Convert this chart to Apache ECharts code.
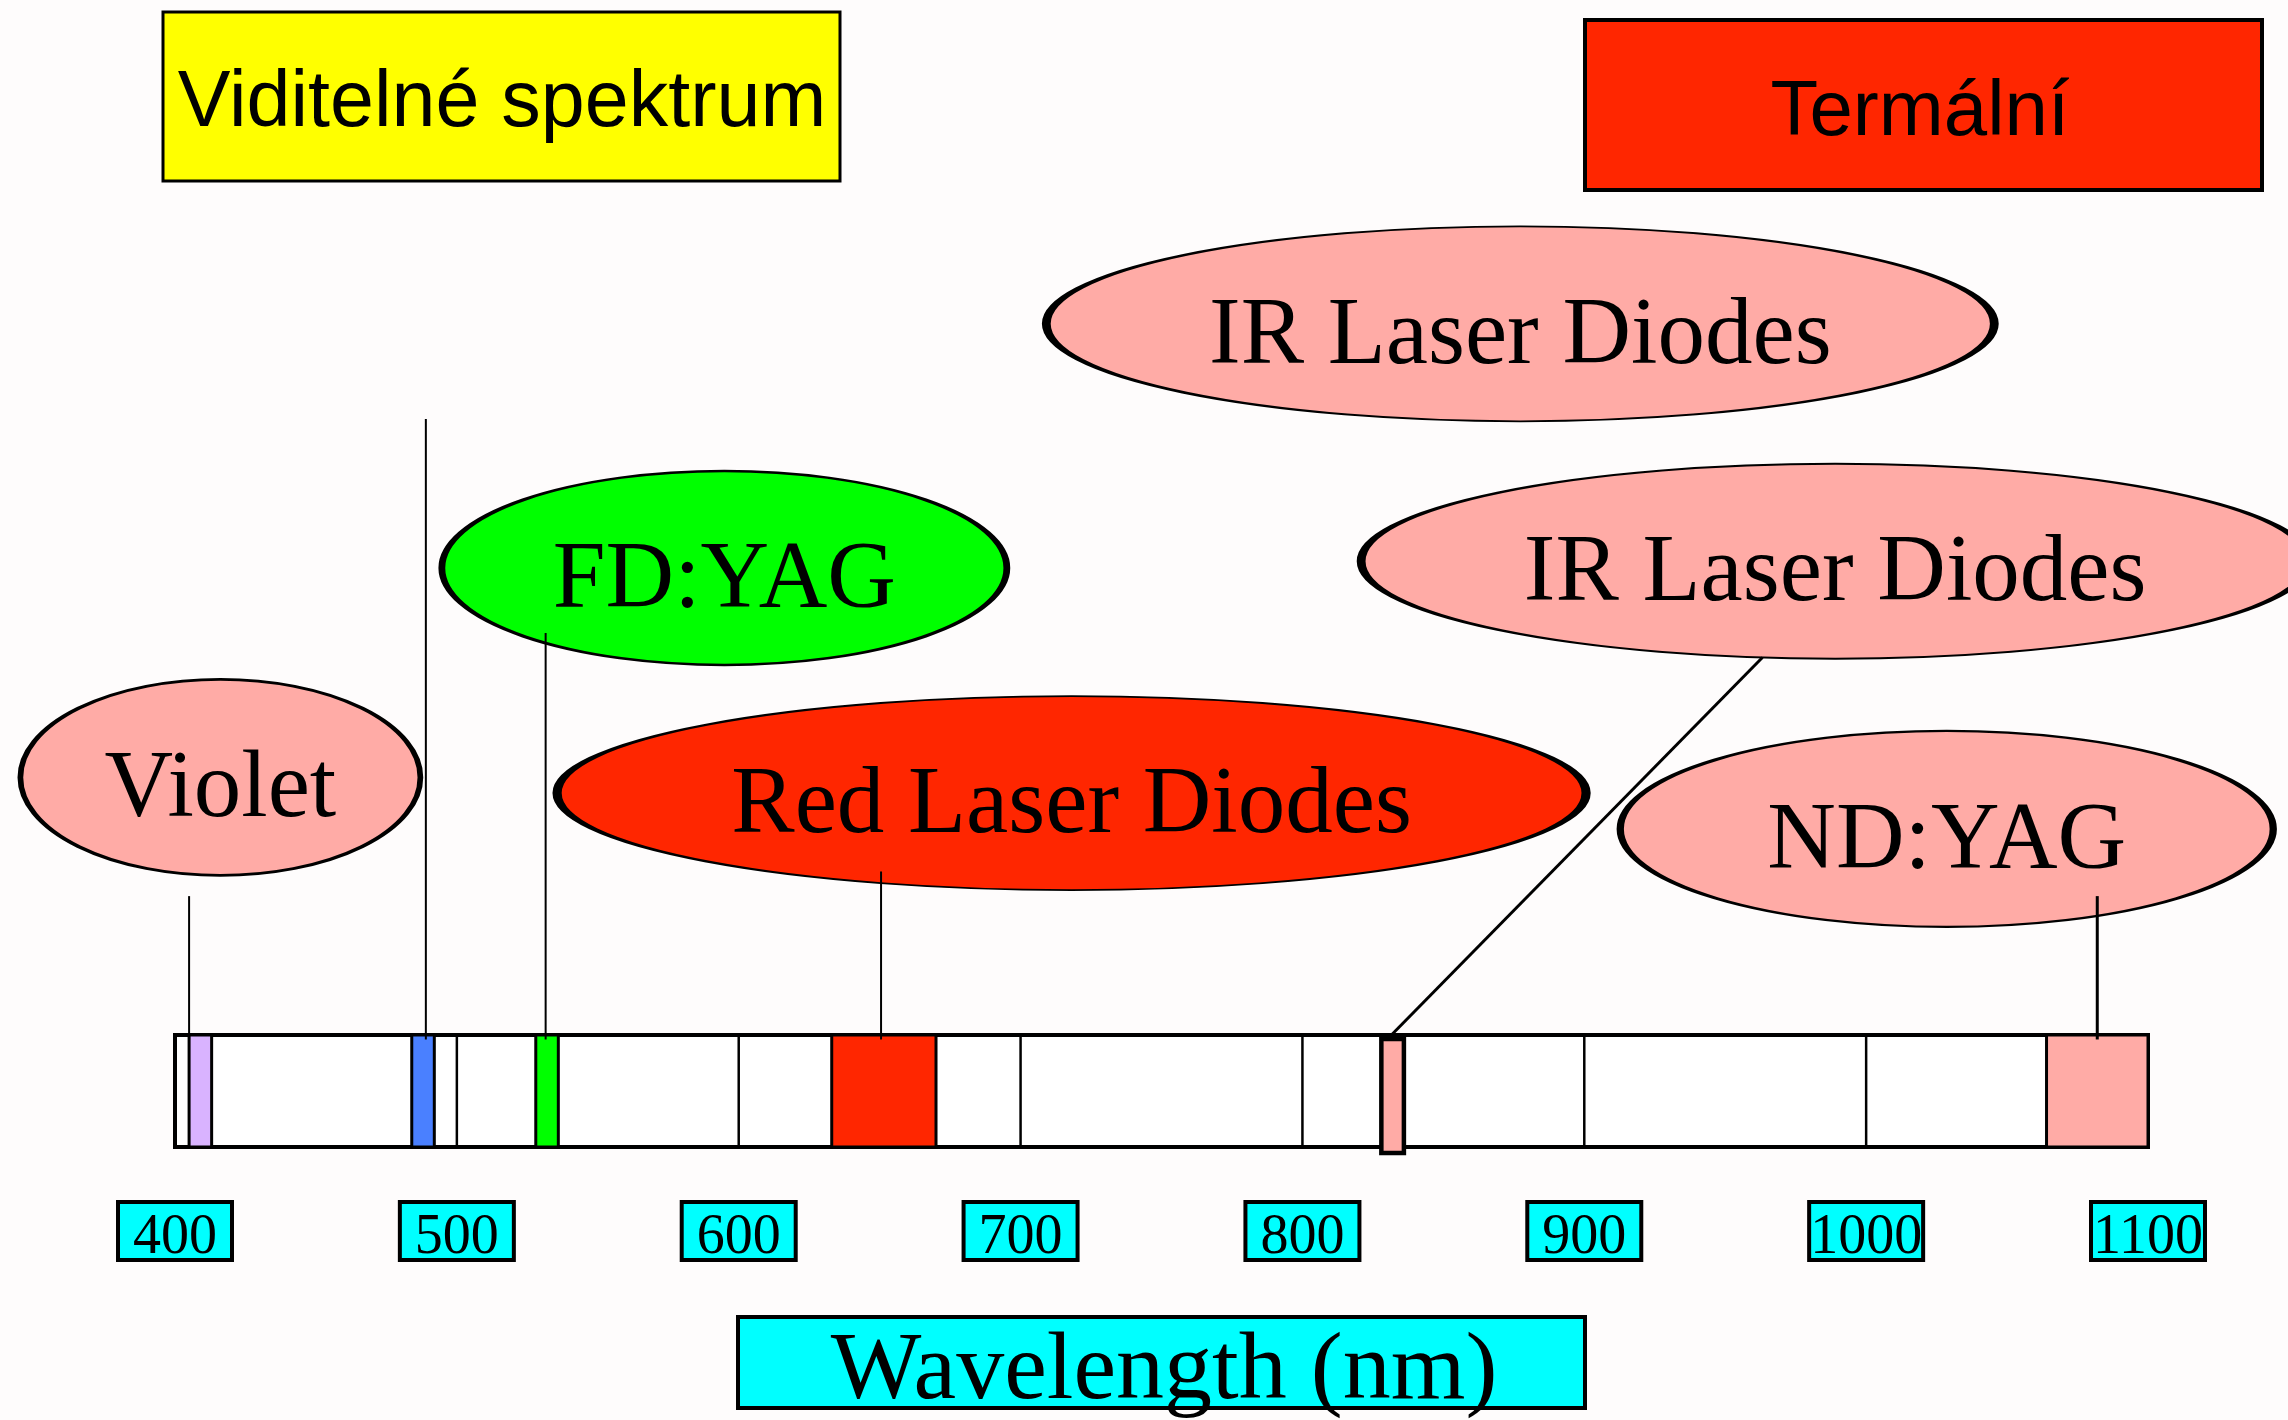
<!DOCTYPE html>
<html>
<head>
<meta charset="utf-8">
<script src="https://cdn.jsdelivr.net/npm/echarts@6/dist/echarts.min.js"></script>
<style>
  html, body { margin: 0; padding: 0; background: #fefcfc; }
  #chart { width: 2288px; height: 1420px; }
</style>
</head>
<body>
<div id="chart"></div>
<script>
// ---------- data ----------
const tickValues = [400, 500, 600, 700, 800, 900, 1000, 1100];
const axisName = 'Wavelength (nm)';
const headerVisible = 'Viditelné spektrum';
const headerThermal = 'Termální';

// laser bands on the wavelength scale (nm)
const bandNames   = ['Violet', 'Blue', 'FD:YAG', 'Red Laser Diodes', 'IR Laser Diodes', 'ND:YAG'];
const bandStart   = [405, 484, 528, 633, 828, 1064];
const bandEnd     = [413, 492, 536, 670, 836, 1100];
const bandPointer = [405, 489, 531.5, 650.5, 830, 1082];

// callout texts
const calloutNames = ['Violet', 'FD:YAG', 'Red Laser Diodes', 'IR Laser Diodes', 'IR Laser Diodes', 'ND:YAG'];

// ---------- layout / style (not data) ----------
const bandColors = ['#d9b3ff', '#4a80ff', '#00ff00', '#ff2600', '#ffaba6', '#ffaba6'];
// callout ellipse placement: anchor nm, level (bar height units), size px, colour
const calloutLayout = [
  { nm: 416.1, level: 3.30, w: 400, h: 196, color: '#ffaba6' },
  { nm: 594.9, level: 5.17, w: 565, h: 194, color: '#00ff00' },
  { nm: 718.1, level: 3.16, w: 1029, h: 194, color: '#ff2600' },
  { nm: 877.3, level: 7.35, w: 948, h: 195, color: '#ffaba6' },
  { nm: 989.0, level: 5.23, w: 948, h: 195, color: '#ffaba6' },
  { nm: 1028.6, level: 2.84, w: 653, h: 196, color: '#ffaba6' }
];
// leader lines: top end of each band's pointer line
const leaderTop = [
  { nm: 405, level: 2.24 },
  { nm: 489, level: 6.50 },
  { nm: 531.5, level: 4.59 },
  { nm: 650.5, level: 2.46 },
  { nm: 963.2, level: 4.37 },
  { nm: 1082, level: 2.24 }
];

const serif = '"Liberation Serif", "Times New Roman", serif';
const sans = '"Liberation Sans", Arial, sans-serif';

const chart = echarts.init(document.getElementById('chart'), null, { renderer: 'canvas' });

const option = {
  backgroundColor: '#fefcfc',
  animation: false,
  grid: { left: 175, right: 140, top: 27, bottom: 273, containLabel: false },
  xAxis: {
    type: 'value',
    min: tickValues[0],
    max: tickValues[tickValues.length - 1],
    interval: 100,
    axisLine: { show: false },
    axisTick: { show: false },
    splitLine: { show: false },
    axisLabel: {
      show: true,
      showMinLabel: true,
      showMaxLabel: true,
      formatter: function (v) { return String(v); },
      margin: 57,
      fontFamily: serif,
      fontSize: 56,
      color: '#000',
      backgroundColor: '#00ffff',
      borderColor: '#000',
      borderWidth: 4,
      width: 110,
      height: 48,
      lineHeight: 56,
      align: 'center',
      verticalAlign: 'top',
      padding: [6, 0, 0, 0]
    }
  },
  yAxis: { type: 'value', min: 0, max: 10, show: false },
  graphic: [
    { type: 'rect', z: 10, shape: { x: 163, y: 12, width: 677, height: 169 },
      style: { fill: '#ffff00', stroke: '#000', lineWidth: 3 } },
    { type: 'text', z: 11, style: { text: headerVisible, x: 502, y: 104, font: '79px ' + sans,
      fill: '#000', textAlign: 'center', textVerticalAlign: 'middle', verticalAlign: 'middle' } },
    { type: 'rect', z: 10, shape: { x: 1585, y: 20, width: 677, height: 170 },
      style: { fill: '#ff2600', stroke: '#000', lineWidth: 4 } },
    { type: 'text', z: 11, style: { text: headerThermal, x: 1920, y: 113, font: '78px ' + sans,
      fill: '#000', textAlign: 'center', textVerticalAlign: 'middle', verticalAlign: 'middle' } },
    { type: 'rect', z: 10, shape: { x: 738, y: 1317, width: 847, height: 91 },
      style: { fill: '#00ffff', stroke: '#000', lineWidth: 4 } },
    { type: 'text', z: 11, style: { text: axisName, x: 1164, y: 1373, font: '96px ' + serif,
      fill: '#000', textAlign: 'center', textVerticalAlign: 'middle', verticalAlign: 'middle' } }
  ],
  series: [
    // the spectrum bar (white box)
    {
      type: 'custom', z: 1, silent: true,
      data: [[tickValues[0], tickValues[tickValues.length - 1]]],
      renderItem: function (params, api) {
        const p0 = api.coord([api.value(0), 1]);
        const p1 = api.coord([api.value(1), 0]);
        return { type: 'rect', shape: { x: p0[0], y: p0[1], width: p1[0] - p0[0], height: p1[1] - p0[1] },
          style: { fill: '#ffffff', stroke: '#000', lineWidth: 4 } };
      }
    },
    // 100 nm dividers inside the bar
    {
      type: 'custom', z: 2, silent: true,
      data: tickValues.slice(1, -1).map(v => [v]),
      renderItem: function (params, api) {
        const a = api.coord([api.value(0), 1]);
        const b = api.coord([api.value(0), 0]);
        return { type: 'line', shape: { x1: a[0], y1: a[1], x2: b[0], y2: b[1] },
          style: { stroke: '#000', lineWidth: 2.5 } };
      }
    },
    // laser bands
    {
      type: 'custom', z: 3, silent: true,
      data: bandNames.map((n, i) => ({ name: n, value: [bandStart[i], bandEnd[i]] })),
      renderItem: function (params, api) {
        const p0 = api.coord([api.value(0), 1]);
        const p1 = api.coord([api.value(1), 0]);
        const isIR = params.dataIndex === 4;
        return { type: 'rect', shape: { x: p0[0], y: p0[1] + (isIR ? 4 : 0), width: p1[0] - p0[0], height: p1[1] - p0[1] + (isIR ? 2 : 0) },
          style: { fill: bandColors[params.dataIndex], stroke: '#000', lineWidth: isIR ? 4.5 : 3 } };
      }
    },
    // callout ellipses with labels
    {
      type: 'scatter', z: 4, silent: true, clip: false,
      symbol: 'circle',
      data: calloutNames.map((n, i) => ({
        name: n,
        value: [calloutLayout[i].nm, calloutLayout[i].level],
        symbolSize: [calloutLayout[i].w, calloutLayout[i].h],
        itemStyle: { color: calloutLayout[i].color, borderColor: '#000', borderWidth: 4, opacity: 1 }
      })),
      label: {
        show: true, position: 'inside', formatter: '{b}',
        fontFamily: serif, fontSize: 95, color: '#000', offset: [0, 14]
      },
      emphasis: { disabled: true }
    },
    // leader lines
    {
      type: 'custom', z: 5, silent: true,
      data: bandPointer.map((p, i) => [p, 0.96, leaderTop[i].nm, leaderTop[i].level]),
      renderItem: function (params, api) {
        const a = api.coord([api.value(0), api.value(1)]);
        const b = api.coord([api.value(2), api.value(3)]);
        return { type: 'line', shape: { x1: a[0], y1: a[1], x2: b[0], y2: b[1] },
          style: { stroke: '#000', lineWidth: params.dataIndex === 4 || params.dataIndex === 5 ? 3 : 2 } };
      }
    }
  ]
};
chart.setOption(option);
</script>
</body>
</html>
